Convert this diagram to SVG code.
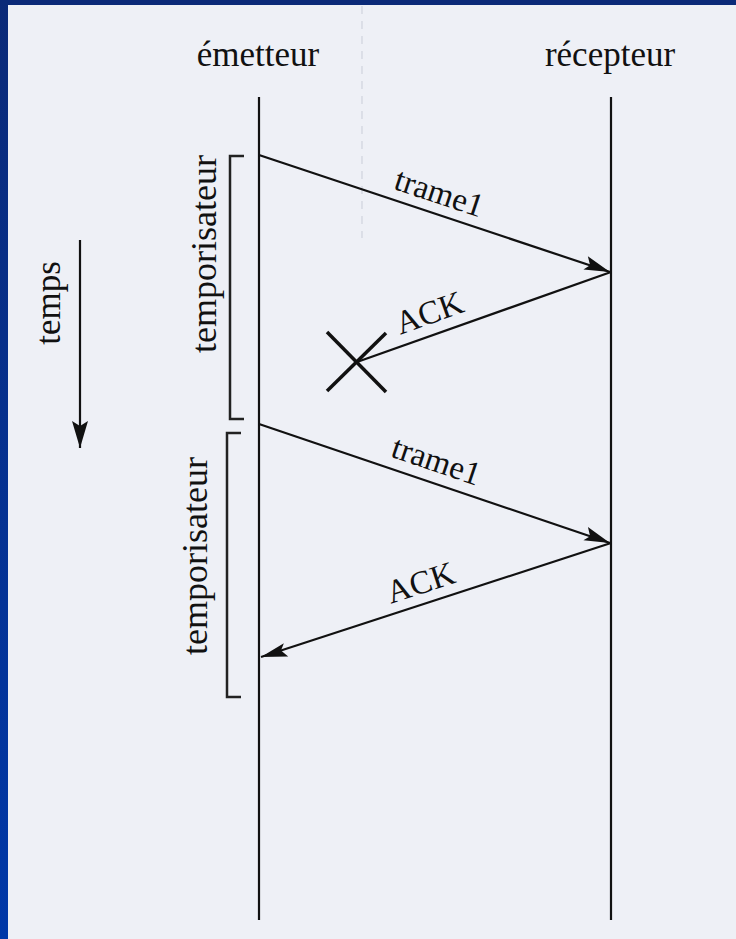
<svg xmlns="http://www.w3.org/2000/svg" width="736" height="939" viewBox="0 0 736 939">
  <defs>
    <linearGradient id="blueL" x1="0" y1="0" x2="0" y2="1">
      <stop offset="0" stop-color="#0b2a78"/>
      <stop offset="1" stop-color="#0038a8"/>
    </linearGradient>
    <marker id="head" markerUnits="userSpaceOnUse" markerWidth="32" markerHeight="20" viewBox="-30 -10 32 20" refX="0" refY="0" orient="auto">
      <path d="M0,0 L-26,-8 L-21,0 L-26,6 Z" fill="#111"/>
    </marker>
    <marker id="thead" markerUnits="userSpaceOnUse" markerWidth="32" markerHeight="20" viewBox="-30 -10 32 20" refX="0" refY="0" orient="auto">
      <path d="M0,0 L-27,-8 L-22,0 L-27,8 Z" fill="#111"/>
    </marker>
  </defs>
  <style>
    .lbl { font-family: "Liberation Serif", "Times New Roman", serif; fill: #111; }
    .big { font-size: 35px; }
    .tmp { font-size: 36px; }
    .mid { font-size: 33px; }
    .ln { stroke: #111; stroke-width: 2.2; fill: none; }
    .x { stroke: #111; stroke-width: 3.5; fill: none; }
    .br { stroke: #222; stroke-width: 2.5; fill: none; }
  </style>
  <rect x="0" y="0" width="736" height="939" fill="#eef0f6"/>
  <rect x="0" y="0" width="736" height="5" fill="#0b2a78"/>
  <rect x="0" y="0" width="8" height="939" fill="url(#blueL)"/>
  <line x1="362" y1="6" x2="362" y2="238" stroke="#c9cdd8" stroke-width="1" stroke-dasharray="8 7"/>

  <g id="emetteur">
    <text class="lbl big" x="258" y="66" text-anchor="middle">émetteur</text>
    <line class="ln" x1="259" y1="97" x2="259" y2="920"/>
  </g>
  <g id="recepteur">
    <text class="lbl big" x="610" y="66" text-anchor="middle">récepteur</text>
    <line class="ln" x1="611" y1="97" x2="611" y2="920"/>
  </g>
  <g id="temps">
    <text class="lbl big" transform="translate(60,303) rotate(-90)" text-anchor="middle">temps</text>
    <line class="ln" x1="80" y1="240" x2="80" y2="448" marker-end="url(#thead)"/>
  </g>
  <g id="temporisateur1">
    <path class="br" d="M244,156 H230 V419 H244"/>
    <text class="lbl tmp" transform="translate(216,254) rotate(-90)" text-anchor="middle">temporisateur</text>
  </g>
  <g id="temporisateur2">
    <path class="br" d="M241,433 H227 V697 H241"/>
    <text class="lbl tmp" transform="translate(207,556) rotate(-90)" text-anchor="middle">temporisateur</text>
  </g>
  <g id="perte">
    <line class="x" x1="327" y1="332" x2="386" y2="392"/>
    <line class="x" x1="386" y1="333" x2="327" y2="391"/>
  </g>

  <g id="connecteurs">
    <line class="ln" x1="259" y1="155" x2="610" y2="272" marker-end="url(#head)"/>
    <line class="ln" x1="611" y1="272" x2="357" y2="362"/>
    <line class="ln" x1="259" y1="424" x2="610" y2="543" marker-end="url(#head)"/>
    <line class="ln" x1="611" y1="543" x2="261" y2="657" marker-end="url(#head)"/>
    <text class="lbl mid" transform="translate(436,203) rotate(18.4)" text-anchor="middle">trame1</text>
    <text class="lbl mid" transform="translate(433,323) rotate(-19.5)" text-anchor="middle">ACK</text>
    <text class="lbl mid" transform="translate(433,471) rotate(18.7)" text-anchor="middle">trame1</text>
    <text class="lbl mid" transform="translate(424,593) rotate(-18)" text-anchor="middle">ACK</text>
  </g>
</svg>
